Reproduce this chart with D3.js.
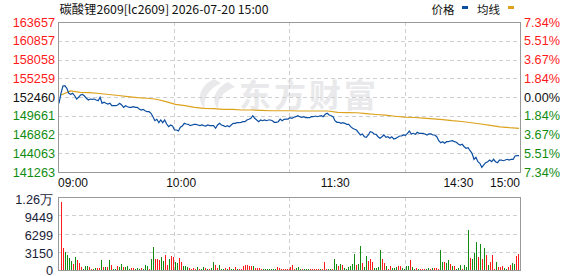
<!DOCTYPE html>
<html><head><meta charset="utf-8">
<script src="https://cdn.jsdelivr.net/npm/d3@7"></script>
<style>body{margin:0;background:#fff;} svg{display:block}</style>
</head><body><svg id="c" width="578" height="276"></svg>
<script>
const title = "碳酸锂2609[lc2609] 2026-07-20 15:00";
const legendNames = ["价格", "均线"];
const priceTicks = [163657,160857,158058,155259,152460,149661,146862,144063,141263];
const pctLabels = ["7.34%","5.51%","3.67%","1.84%","0.00%","1.84%","3.67%","5.51%","7.34%"];
const preClose = 152460;
const timeLabels = ["09:00","10:00","11:30","14:30","15:00"];
const timeMinutes = [0,60,135,195,225];
const volTicks = [0,3150,6299,9449,12598];
const volTickLabels = ["0","3150","6299","9449","1.26万"];

const price = [
151520,153010,154100,154150,153760,153010,152860,153010,152650,152160,
152420,152760,152860,152610,152270,152010,152160,152120,152160,152010,
151910,152420,151520,151670,151520,151410,151520,151160,151160,151160,
151270,151520,151270,150920,151160,151010,150920,150920,151010,150920,
150920,150670,150520,150620,150410,150270,150270,150030,149520,148920,
149130,148620,149030,148620,149030,148430,148030,148280,148130,147530,
147530,147380,147940,148130,148530,148430,148380,148180,148280,148380,
148380,148280,148180,148280,148180,148130,148280,148180,148180,148180,
147790,148280,148530,148280,148180,148030,148180,148030,148280,148530,
148530,148620,148620,148680,148770,148770,149030,149130,149280,149670,
149280,149030,148770,149030,148920,149030,148920,149030,149030,148920,
148680,148680,148770,149170,148920,149130,149170,149170,149370,149280,
149430,149520,149670,149520,149430,149520,149370,149370,149370,149520,
149520,149620,149520,149620,149670,149520,149880,150030,149770,149670,
149520,148920,148680,148680,148530,148620,148530,148380,148380,148030,
147790,147640,147530,147130,146790,146940,146530,
146440,146790,147280,147190,146940,146890,146530,146290,146530,146790,
146440,146530,146290,146530,146190,146290,146440,146640,146640,146790,
146740,147040,147380,146940,147040,146890,147190,147040,147040,147040,
146940,146790,146940,146940,146790,146790,146530,145930,145640,145790,
145550,145790,145790,145890,145930,145790,145700,145440,145290,145400,
145040,144800,144890,144440,144050,143160,143460,142800,142560,141960,
142310,142650,142800,143050,142800,143160,142800,142650,143050,143050,
142950,143050,143160,143050,143160,143160,143650,143700,143700
];

const avgPrice = [
152760,153360,153160,153100,152980,152830,152680,152530,152370,152270,
152120,151760,151370,151160,150920,150770,150730,150620,150620,150520,
150520,150470,150410,150410,150410,150370,150370,150370,150370,150170,
150130,150110,149980,149850,149740,149590,149470,149400,149300,149180,
149090,148920,148800,148620,148430,148210,148010,147880,147790
];

const volume = [
11740,3840,3150,2580,2120,1550,1030,2230,1720,1200,
570,230,740,740,570,230,230,340,340,340,
1720,570,570,460,1720,860,230,230,740,570,
1030,570,570,740,230,340,340,230,340,230,
340,230,860,740,230,1890,3950,1890,1890,1720,
2230,1550,2580,860,1890,2410,2290,1380,1200,2060,
1380,740,740,570,340,230,340,230,570,230,
230,570,340,230,230,340,
1380,860,340,860,230,230,340,230,570,230,
230,570,230,230,230,740,920,920,740,740,
740,400,340,340,230,230,230,230,230,230,
230,230,570,340,230,230,230,230,230,570,
860,230,340,570,230,230,230,230,230,230,
230,230,230,230,230,230,1380,230,230,230,
230,1890,1030,740,1030,860,340,230,570,740,
1030,2750,860,1030,4130,1200,
570,2410,1550,1890,1380,340,340,570,3440,1890,
1200,740,230,740,340,340,570,740,740,340,
230,740,740,1720,570,230,340,230,230,230,
230,230,340,230,340,340,340,230,3440,1380,
1380,1200,1720,1030,740,740,230,340,920,230,
920,570,6880,2060,1890,2920,4810,2290,4470,1890,
3780,2580,860,1380,2580,230,1380,570,570,740,
340,230,570,860,1200,1030,2410,2750
];
const volUp = [
1,1,0,0,0,0,1,0,1,1,
1,0,0,0,1,1,0,0,1,1,
0,1,0,1,0,1,0,0,1,0,
0,1,0,0,0,1,1,0,0,0,
1,0,0,0,1,0,0,1,1,1,
0,0,1,1,0,1,1,0,0,1,
1,0,0,0,1,1,1,1,0,1,
0,0,1,0,1,0,
0,1,1,0,0,0,1,0,1,0,
0,1,0,1,1,1,1,1,1,1,
0,1,1,1,1,0,0,0,0,0,
0,0,1,1,1,1,1,1,1,1,
1,1,0,0,0,1,0,0,0,1,
1,1,1,1,0,1,1,1,0,0,
1,0,0,1,0,1,0,0,0,0,
0,0,1,0,0,1,
0,0,1,1,1,0,0,0,0,1,
1,0,1,1,0,0,0,1,1,0,
0,0,0,1,0,0,1,0,1,1,
1,0,0,1,0,1,1,1,0,0,
1,0,0,1,0,1,0,0,0,1,
0,0,0,1,0,0,0,1,0,1,
0,1,0,1,1,1,0,1,1,1,
0,0,1,1,0,0,1,1
];

const RED = "#ff1a1a", GREEN = "#118c11", BLUE = "#0b4ea2", GOLD = "#dda21c";
const L = 58, R = 520, T = 22, B = 172, VT = 197, VB = 270;
const svg = d3.select("#c");
const numFont = "'Liberation Sans', Arial, sans-serif";
const cjkFont = "'Noto Sans CJK SC', sans-serif";

const tx = d3.scaleLinear().domain([0, 225]).range([L, R]);
const xp = d3.scaleLinear().domain([0, price.length - 1]).range([59, 519]);
const xa = d3.scaleLinear().domain([0, avgPrice.length - 1]).range([61, 519]);
const xv = d3.scaleLinear().domain([0, volume.length - 1]).range([61, 518]);
const y = d3.scaleLinear().domain([priceTicks[8], priceTicks[0]]).range([B, T]);
const yv = d3.scaleLinear().domain([0, volTicks[4]]).range([VB, VT]);

// watermark
const wm = svg.append("g").attr("fill", "#e9e9eb");
wm.append("path").attr("d", "M214 79 C199 86 196 100 205 109 C203 99 207 90 221 83 Z");
wm.append("path").attr("d", "M228 82 C214 89 211 101 218 109 C218 99 222 92 235 87 Z");
wm.append("text").attr("x", 239).attr("y", 107).attr("font-family", cjkFont)
  .attr("font-weight", "bold").attr("font-size", 32).attr("letter-spacing", 3).text("东方财富");

// grids
const grid = svg.append("g").attr("stroke", "#d0d0d0").attr("stroke-dasharray", "4,3")
  .attr("shape-rendering", "crispEdges");
priceTicks.slice(1, 8).forEach(v => {
  grid.append("line").attr("x1", L).attr("x2", R).attr("y1", Math.round(y(v)) + 0.5).attr("y2", Math.round(y(v)) + 0.5);
});
volTicks.slice(1, 4).forEach(v => {
  grid.append("line").attr("x1", L).attr("x2", R).attr("y1", Math.round(yv(v)) + 0.5).attr("y2", Math.round(yv(v)) + 0.5);
});
[56.25, 112.5, 168.75].forEach(m => {
  const xx = Math.round(tx(m)) + 0.5;
  grid.append("line").attr("x1", xx).attr("x2", xx).attr("y1", T).attr("y2", B);
  grid.append("line").attr("x1", xx).attr("x2", xx).attr("y1", VT).attr("y2", VB);
});

// lines
svg.append("path").datum(avgPrice).attr("fill", "none").attr("stroke", GOLD).attr("stroke-width", 1.2)
  .attr("d", d3.line().x((d, i) => xa(i)).y(d => y(d)));
svg.append("path").datum(price).attr("fill", "none").attr("stroke", BLUE).attr("stroke-width", 1.2)
  .attr("d", d3.line().x((d, i) => xp(i)).y(d => y(d)));

// volume bars
svg.append("g").attr("shape-rendering", "crispEdges").selectAll("rect").data(volume).join("rect")
  .attr("x", (d, i) => Math.round(xv(i)))
  .attr("width", 1)
  .attr("y", d => yv(d))
  .attr("height", d => VB - yv(d))
  .attr("fill", (d, i) => volUp[i] ? RED : GREEN);

// borders
svg.append("rect").attr("x", L + 0.5).attr("y", T + 0.5).attr("width", R - L).attr("height", B - T)
  .attr("fill", "none").attr("stroke", "#999");
svg.append("rect").attr("x", L + 0.5).attr("y", VT + 0.5).attr("width", R - L).attr("height", VB - VT)
  .attr("fill", "none").attr("stroke", "#999");

// price axis labels
const colorFor = v => v > preClose ? RED : (v < preClose ? GREEN : "#111");
svg.append("g").selectAll("text").data(priceTicks).join("text")
  .attr("x", 55).attr("y", d => y(d)).attr("dy", "0.36em").attr("text-anchor", "end")
  .attr("font-family", numFont).attr("font-size", 12.7).attr("fill", colorFor).text(d => d);
svg.append("g").selectAll("text").data(priceTicks).join("text")
  .attr("x", 524).attr("y", d => y(d)).attr("dy", "0.36em")
  .attr("font-family", numFont).attr("font-size", 12.7).attr("fill", colorFor)
  .text((d, i) => pctLabels[i]);

// volume labels
svg.append("g").selectAll("text").data(volTicks).join("text")
  .attr("x", 53).attr("y", d => Math.min(yv(d) + 6.6, 274.5)).attr("text-anchor", "end")
  .attr("font-family", numFont).attr("font-size", 12.7).attr("fill", "#1a2238")
  .text((d, i) => volTickLabels[i]);

// time labels
svg.append("g").selectAll("text").data(timeMinutes).join("text")
  .attr("x", d => tx(d)).attr("y", 186.5)
  .attr("text-anchor", (d, i) => i === 0 ? "start" : (i === timeMinutes.length - 1 ? "end" : "middle"))
  .attr("font-family", numFont).attr("font-size", 12).attr("fill", "#111")
  .text((d, i) => timeLabels[i]);

// title
svg.append("text").attr("x", 59.5).attr("y", 14).attr("font-family", cjkFont)
  .attr("font-size", 12).attr("fill", "#111").attr("textLength", 209).attr("lengthAdjust", "spacingAndGlyphs")
  .text(title);

// legend
svg.append("text").attr("x", 431.5).attr("y", 14).attr("font-family", cjkFont).attr("font-size", 11.5)
  .attr("fill", "#111").text(legendNames[0]);
svg.append("rect").attr("x", 462).attr("y", 6).attr("width", 6).attr("height", 3).attr("fill", BLUE);
svg.append("text").attr("x", 477).attr("y", 14).attr("font-family", cjkFont).attr("font-size", 11.5)
  .attr("fill", "#111").text(legendNames[1]);
svg.append("rect").attr("x", 508).attr("y", 6).attr("width", 6).attr("height", 3).attr("fill", GOLD);
</script></body></html>
